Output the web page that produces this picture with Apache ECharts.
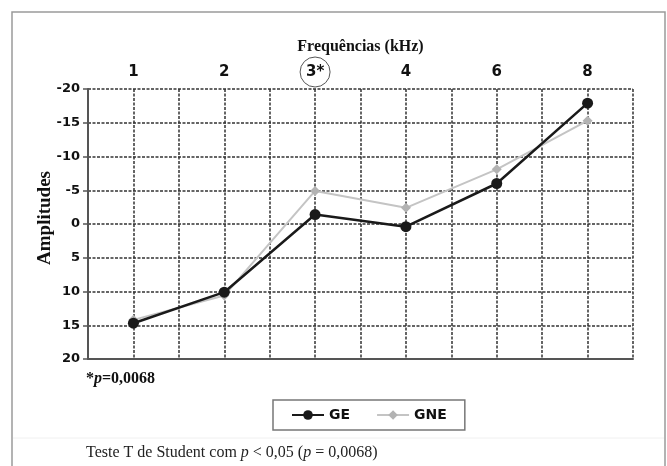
<!DOCTYPE html>
<html>
<head>
<meta charset="utf-8">
<script src="https://cdn.jsdelivr.net/npm/echarts@6/dist/echarts.min.js"></script>
<style>html,body{margin:0;padding:0;background:#fff}#c{width:667px;height:466px}</style>
</head>
<body>
<div id="c"></div>
<script>
const categories = ['1', '2', '3', '4', '6', '8'];
const significant = ['3'];
const geValues = [14.7, 10.1, -1.4, 0.4, -6.0, -17.9];
const gneValues = [14.2, 10.6, -4.9, -2.4, -8.1, -15.3];
const yTicks = [-20, -15, -10, -5, 0, 5, 10, 15, 20];

const chart = echarts.init(document.getElementById('c'), null, {renderer: 'canvas'});
const gridLine = {show: true, lineStyle: {color: '#333', width: 1.5, type: [3, 1.5]}};
const toPts = arr => arr.map((v, i) => [i + 1, v]);

chart.setOption({
  backgroundColor: '#fff',
  animation: false,
  graphic: [
    {type: 'rect', shape: {x: 12, y: 12, width: 653, height: 480}, style: {fill: 'none', stroke: '#9a9a9a', lineWidth: 1.5}},
    {type: 'line', shape: {x1: 13, y1: 438, x2: 664, y2: 438}, style: {stroke: '#f0f0f0', lineWidth: 1}},
    {type: 'text', left: 86, top: 371, style: {
      text: '{b|*}{bi|p}{b|=0,0068}',
      rich: {
        b: {font: 'bold 16px "Liberation Serif"', fill: '#111'},
        bi: {font: 'italic bold 16px "Liberation Serif"', fill: '#111'}
      }}},
    {type: 'text', left: 86, top: 445, style: {
      text: '{n|Teste T de Student com }{i|p}{n| < 0,05 (}{i|p}{n| = 0,0068)}',
      rich: {
        n: {font: '16px "Liberation Serif"', fill: '#222'},
        i: {font: 'italic 16px "Liberation Serif"', fill: '#222'}
      }}}
  ],
  grid: {left: 88, right: 34, top: 89, bottom: 107, containLabel: false},
  legend: {
    data: ['GE', 'GNE'],
    left: 273, top: 400,
    padding: [8, 18],
    itemWidth: 32, itemHeight: 12, itemGap: 26,
    borderColor: '#777', borderWidth: 1.5, borderRadius: 0,
    textStyle: {fontFamily: 'DejaVu Sans', fontWeight: 'bold', fontSize: 14, color: '#111'}
  },
  xAxis: [{
    type: 'value', position: 'top', min: 0.5, max: 6.5, interval: 0.5,
    name: 'Frequências (kHz)', nameLocation: 'middle', nameGap: 34, nameMoveOverlap: false,
    nameTextStyle: {fontFamily: 'Liberation Serif', fontWeight: 'bold', fontSize: 16, color: '#111'},
    axisLine: {show: false}, axisTick: {show: false},
    axisLabel: {
      margin: 2, lineHeight: 30, fontFamily: 'DejaVu Sans', fontWeight: 'bold', fontSize: 15, color: '#111',
      formatter: v => {
        if (!Number.isInteger(v)) return '';
        const c = categories[v - 1];
        if (c === undefined) return '';
        return significant.includes(c) ? '{c|' + c + '*}' : c;
      },
      rich: {
        c: {width: 30, height: 30, lineHeight: 30, borderRadius: 15, borderColor: '#555', borderWidth: 1, align: 'center',
            fontFamily: 'DejaVu Sans', fontWeight: 'bold', fontSize: 15, color: '#111'}
      }
    },
    splitLine: gridLine
  }, {
    type: 'value', min: 0.5, max: 6.5, position: 'bottom',
    axisLine: {show: true, onZero: true, lineStyle: {color: '#555', width: 2}},
    axisTick: {show: false}, axisLabel: {show: false}, splitLine: {show: false}
  }],
  yAxis: {
    type: 'value', inverse: true, min: -20, max: 20, interval: 5,
    name: 'Amplitudes', nameLocation: 'middle', nameGap: 33, nameMoveOverlap: false,
    nameTextStyle: {fontFamily: 'Liberation Serif', fontWeight: 'bold', fontSize: 19, color: '#111', padding: [0, 0, 0, 12]},
    axisLine: {show: true, lineStyle: {color: '#555', width: 2}},
    axisTick: {show: true, length: 5, lineStyle: {color: '#555', width: 1.5}},
    axisLabel: {margin: 8, fontFamily: 'DejaVu Sans', fontWeight: 'bold', fontSize: 13, color: '#111',
      formatter: v => yTicks.includes(v) ? String(v) : ''},
    splitLine: gridLine
  },
  series: [{
    name: 'GNE', type: 'line', xAxisIndex: 0, data: toPts(gneValues),
    symbol: 'diamond', symbolSize: 10,
    itemStyle: {color: '#b3b3b3'}, lineStyle: {color: '#c4c4c4', width: 2}, z: 3
  }, {
    name: 'GE', type: 'line', xAxisIndex: 0, data: toPts(geValues),
    symbol: 'circle', symbolSize: 11,
    itemStyle: {color: '#1a1a1a'}, lineStyle: {color: '#1a1a1a', width: 2.5}, z: 4
  }]
});
</script>
</body>
</html>
